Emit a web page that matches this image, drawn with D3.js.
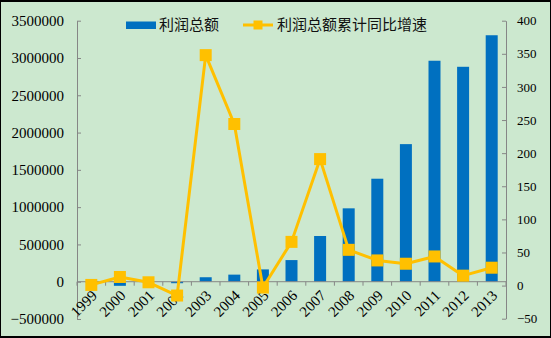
<!DOCTYPE html>
<html>
<head>
<meta charset="utf-8">
<script src="https://cdn.jsdelivr.net/npm/d3@7/dist/d3.min.js"></script>
<style>
  html, body { margin: 0; padding: 0; background: #fff; }
  svg { display: block; }
</style>
</head>
<body>
<svg id="chart" width="551" height="338"></svg>
<script>
// ---- data ----
const years = ["1999","2000","2001","2002","2003","2004","2005","2006","2007","2008","2009","2010","2011","2012","2013"];
const profit = [-8000, -55000, 3000, -20000, 60000, 95000, 165000, 290000, 613000, 984000, 1381000, 1845000, 2963000, 2882000, 3305000];
const growth = [1, 13, 5, -15, 348, 244, -3, 66, 191, 54, 38, 33, 44, 15, 27];
const leftTicks = [-500000, 0, 500000, 1000000, 1500000, 2000000, 2500000, 3000000, 3500000];
const rightTicks = [-50, 0, 50, 100, 150, 200, 250, 300, 350, 400];
const seriesNames = ["利润总额", "利润总额累计同比增速"];

// ---- layout ----
const W = 551, H = 338;
const plot = { left: 77, right: 506, top: 20.7, bottom: 318.7 };
const barColor = "#0070C0", lineColor = "#FFC000", axisColor = "#868686", bg = "#CCE8CF";

const svg = d3.select("#chart");
// frame
svg.append("rect").attr("x", 0).attr("y", 0).attr("width", W).attr("height", H).attr("fill", "#000");
svg.append("rect").attr("x", 1).attr("y", 2).attr("width", W - 2).attr("height", H - 4).attr("fill", bg);

const x = d3.scaleBand().domain(years).range([plot.left, plot.right]).paddingInner(0).paddingOuter(0);
const yL = d3.scaleLinear().domain([-500000, 3500000]).range([plot.bottom + 0.3, plot.top]);
const yR = d3.scaleLinear().domain([-50, 400]).range([plot.bottom, plot.top]);

const barW = 12;

// bars
svg.append("g").selectAll("rect").data(profit).join("rect")
  .attr("x", (d, i) => x(years[i]) + x.bandwidth() / 2 - barW / 2)
  .attr("y", d => Math.min(yL(d), yL(0)))
  .attr("width", barW)
  .attr("height", d => Math.abs(yL(d) - yL(0)))
  .attr("fill", barColor);

// left axis
const axL = svg.append("g").attr("transform", `translate(${plot.left},0)`)
  .call(d3.axisLeft(yL).tickValues(leftTicks).tickFormat(d3.format("d")).tickSizeInner(-4).tickSizeOuter(0).tickPadding(13));
axL.select(".domain").attr("stroke", axisColor);
axL.selectAll(".tick line").attr("stroke", axisColor);
axL.selectAll(".tick text").attr("font-family", "'Liberation Serif', 'Times New Roman', serif").attr("font-size", 15).attr("fill", "#000");

// right axis
const axR = svg.append("g").attr("transform", `translate(${plot.right},0)`)
  .call(d3.axisRight(yR).tickValues(rightTicks).tickFormat(d3.format("d")).tickSizeInner(-4).tickSizeOuter(0).tickPadding(11));
axR.select(".domain").attr("stroke", axisColor);
axR.selectAll(".tick line").attr("stroke", axisColor);
axR.selectAll(".tick text").attr("font-family", "'Liberation Serif', 'Times New Roman', serif").attr("font-size", 13).attr("fill", "#000");

// category axis at left-zero
const y0 = yL(0);
const axX = svg.append("g");
axX.append("line").attr("x1", plot.left).attr("x2", plot.right).attr("y1", y0).attr("y2", y0).attr("stroke", axisColor);
axX.selectAll("line.tk").data(years.concat(["_end"])).join("line").attr("class", "tk")
  .attr("x1", (d, i) => plot.left + i * x.step()).attr("x2", (d, i) => plot.left + i * x.step())
  .attr("y1", y0).attr("y2", y0 + 4).attr("stroke", axisColor);
axX.selectAll("text").data(years).join("text")
  .attr("transform", d => `translate(${x(d) + x.bandwidth() / 2 + 3},${y0 + 11}) rotate(-45)`)
  .attr("text-anchor", "end").attr("dy", "0.35em")
  .attr("font-family", "'Liberation Serif', 'Times New Roman', serif").attr("font-size", 15).attr("fill", "#000")
  .text(d => d);

// line series
const line = d3.line().x((d, i) => x(years[i]) + x.bandwidth() / 2).y(d => yR(d));
svg.append("path").datum(growth).attr("d", line).attr("fill", "none").attr("stroke", lineColor).attr("stroke-width", 3).attr("stroke-linejoin", "round");
const mk = 12;
svg.append("g").selectAll("rect").data(growth).join("rect")
  .attr("x", (d, i) => x(years[i]) + x.bandwidth() / 2 - mk / 2)
  .attr("y", d => yR(d) - mk / 2)
  .attr("width", mk).attr("height", mk).attr("fill", lineColor);

// legend
const lg = svg.append("g");
lg.append("rect").attr("x", 126).attr("y", 21.5).attr("width", 30).attr("height", 7.5).attr("fill", barColor);
lg.append("text").attr("x", 159).attr("y", 25).attr("dy", "0.36em")
  .attr("font-family", "'Noto Sans CJK SC', sans-serif").attr("font-size", 15).attr("fill", "#111").text(seriesNames[0]);
lg.append("line").attr("x1", 243).attr("x2", 273).attr("y1", 25).attr("y2", 25).attr("stroke", lineColor).attr("stroke-width", 3);
lg.append("rect").attr("x", 253.5).attr("y", 20.5).attr("width", 9).attr("height", 9).attr("fill", lineColor);
lg.append("text").attr("x", 277).attr("y", 25).attr("dy", "0.36em")
  .attr("font-family", "'Noto Sans CJK SC', sans-serif").attr("font-size", 15).attr("fill", "#111").text(seriesNames[1]);
</script>
</body>
</html>
